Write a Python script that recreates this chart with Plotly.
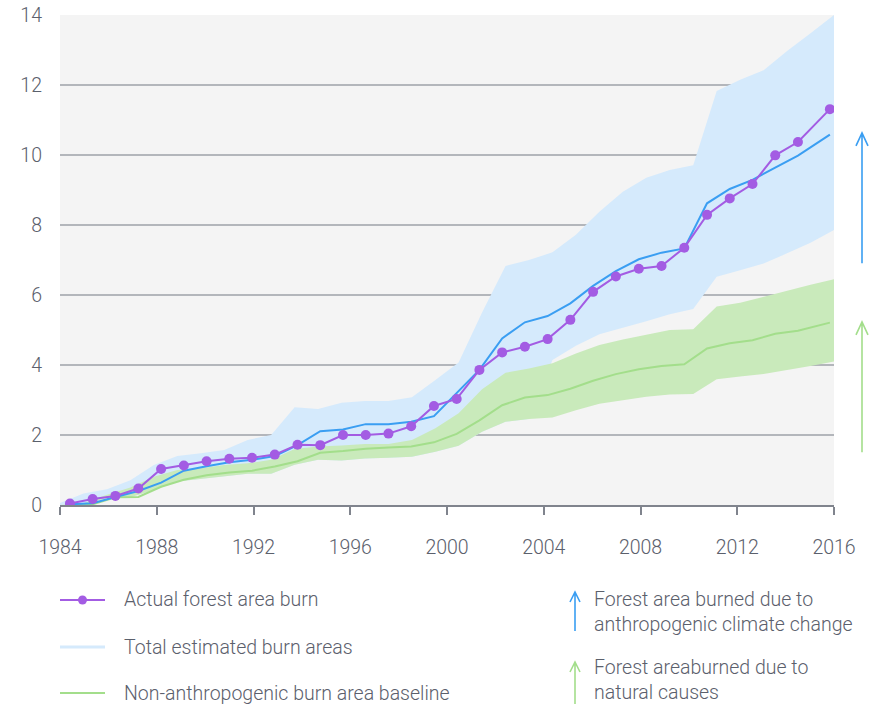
import plotly.graph_objects as go

# ---- data -------------------------------------------------------------
# positions of the observed / modelled yearly series (fractional years)
line_years = [1984.41, 1985.35, 1986.29, 1987.24, 1988.18, 1989.12, 1990.06, 1991.00,
              1991.94, 1992.88, 1993.82, 1994.76, 1995.70, 1996.64, 1997.58, 1998.52,
              1999.46, 2000.40, 2001.34, 2002.28, 2003.22, 2004.16, 2005.10, 2006.04,
              2006.98, 2007.93, 2008.87, 2009.81, 2010.75, 2011.69, 2012.63, 2013.57,
              2014.51, 2015.83]

# cumulative burned forest area (million hectares)
actual_burn = [0.04, 0.17, 0.26, 0.47, 1.03, 1.13, 1.25, 1.32, 1.35, 1.44, 1.72, 1.71,
               2.00, 2.00, 2.04, 2.25, 2.83, 3.03, 3.86, 4.36, 4.52, 4.74, 5.29, 6.09,
               6.53, 6.75, 6.83, 7.35, 8.29, 8.76, 9.17, 9.99, 10.37, 11.31]

total_estimate = [0.02, 0.05, 0.23, 0.40, 0.64, 0.98, 1.11, 1.22, 1.29, 1.40, 1.71, 2.11,
                  2.16, 2.31, 2.31, 2.38, 2.54, 3.19, 3.86, 4.76, 5.22, 5.40, 5.76, 6.26,
                  6.68, 7.02, 7.21, 7.33, 8.62, 9.03, 9.29, 9.64, 9.98, 10.58]

natural_baseline = [0.00, 0.02, 0.22, 0.23, 0.52, 0.72, 0.85, 0.93, 0.98, 1.10, 1.25, 1.49,
                    1.54, 1.61, 1.64, 1.67, 1.79, 2.03, 2.42, 2.85, 3.07, 3.14, 3.32, 3.55,
                    3.74, 3.88, 3.97, 4.02, 4.47, 4.62, 4.71, 4.89, 4.98, 5.21]

# uncertainty ranges, sampled on their own grid from 1984 to 2016
band_years = [1984.00, 1984.97, 1985.94, 1986.91, 1987.88, 1988.85, 1989.82, 1990.79,
              1991.76, 1992.73, 1993.70, 1994.67, 1995.64, 1996.61, 1997.58, 1998.55,
              1999.52, 2000.48, 2001.45, 2002.42, 2003.39, 2004.36, 2005.33, 2006.30,
              2007.27, 2008.24, 2009.21, 2010.18, 2011.15, 2012.12, 2013.09, 2014.06,
              2015.03, 2016.00]

total_high = [0.06, 0.33, 0.45, 0.71, 1.14, 1.40, 1.48, 1.57, 1.86, 2.00, 2.79, 2.74,
              2.92, 2.97, 2.97, 3.08, 3.57, 4.07, 5.50, 6.83, 7.00, 7.22, 7.72, 8.38,
              8.95, 9.35, 9.57, 9.71, 11.83, 12.15, 12.42, 12.97, 13.48, 14.00]

natural_high = [0.00, 0.05, 0.29, 0.50, 0.81, 1.00, 1.05, 1.14, 1.19, 1.29, 1.60, 1.67,
                1.70, 1.74, 1.74, 1.86, 2.19, 2.62, 3.31, 3.78, 3.90, 4.05, 4.33, 4.57,
                4.73, 4.86, 5.00, 5.02, 5.67, 5.78, 5.95, 6.14, 6.29, 6.45]

natural_low = [0.00, 0.00, 0.20, 0.22, 0.43, 0.67, 0.73, 0.81, 0.89, 0.89, 1.15, 1.29,
               1.27, 1.33, 1.35, 1.38, 1.52, 1.69, 2.09, 2.38, 2.46, 2.50, 2.71, 2.89,
               3.00, 3.09, 3.16, 3.17, 3.59, 3.67, 3.74, 3.86, 3.97, 4.10]

total_low = [0.00, 0.00, 0.20, 0.22, 0.43, 0.67, 0.73, 0.81, 0.89, 0.89, 1.15, 1.29,
             1.27, 1.33, 1.35, 1.38, 1.52, 1.69, 2.09, 2.38, 2.46, 4.14, 4.55, 4.88,
             5.06, 5.25, 5.45, 5.60, 6.52, 6.71, 6.90, 7.19, 7.49, 7.86]

year_ticks = [1984, 1988, 1992, 1996, 2000, 2004, 2008, 2012, 2016]
value_ticks = [0, 2, 4, 6, 8, 10, 12, 14]

legend_labels = ["Actual forest area burn",
                 "Total estimated burn areas",
                 "Non-anthropogenic burn area baseline"]
arrow_labels = ["Forest area burned due to<br>anthropogenic climate change",
                "Forest areaburned due to<br>natural causes"]

# ---- styling ----------------------------------------------------------
PURPLE = "#a35ce3"
BLUE = "#3a9ef2"
BLUE_FILL = "#d5eafc"
GREEN = "#a3de8b"
GREEN_FILL = "#c9eabb"
TEXT = "#5b606c"
FONT = dict(family="Roboto", size=19.5, color=TEXT, weight=300)

fig = go.Figure()


def band(xs, lo, hi, color):
    return go.Scatter(
        x=xs + xs[::-1], y=hi + lo[::-1], fill="toself", fillcolor=color,
        line=dict(width=0), mode="lines", hoverinfo="skip", showlegend=False)


fig.add_trace(band(band_years, total_low, total_high, BLUE_FILL))
fig.add_trace(band(band_years, natural_low, natural_high, GREEN_FILL))

fig.add_trace(go.Scatter(x=line_years, y=natural_baseline, mode="lines",
                         line=dict(color=GREEN, width=2), showlegend=False))
fig.add_trace(go.Scatter(x=line_years, y=total_estimate, mode="lines",
                         line=dict(color=BLUE, width=2), showlegend=False))
fig.add_trace(go.Scatter(x=line_years, y=actual_burn, mode="lines+markers",
                         line=dict(color=PURPLE, width=2),
                         marker=dict(color=PURPLE, size=10), showlegend=False))

# ---- geometry helpers (pixel -> paper) --------------------------------
W, H = 870, 704
ML, MR, MT, MB = 60, 36, 15, 199
PW, PH = W - ML - MR, H - MT - MB


def px(x):
    return (x - ML) / PW


def py(y):
    return (H - MB - y) / PH


shapes = []


def arrow(x_pix, y_tip, y_tail, color, head_w, head_h, yref):
    """Vertical arrow with an open chevron head; y in the given y reference."""
    xp = px(x_pix)
    dx = head_w / PW
    path = (f"M {xp},{y_tail} L {xp},{y_tip} "
            f"M {xp - dx},{y_tip - head_h} L {xp},{y_tip} L {xp + dx},{y_tip - head_h}")
    shapes.append(dict(type="path", path=path, xref="paper", yref=yref,
                       line=dict(color=color, width=1.6), layer="above"))


# arrows to the right of the chart, in data units on the value axis
arrow(862, 10.63, 6.91, BLUE, 6, 13 / (PH / 14), "y")
arrow(862, 5.23, 1.51, GREEN, 6, 13 / (PH / 14), "y")

# legend swatches
legend_rows = [600, 647, 693]
swatch_colors = [PURPLE, BLUE_FILL, GREEN]
swatch_widths = [2, 3, 2]
for yy, col, lw in zip(legend_rows, swatch_colors, swatch_widths):
    shapes.append(dict(type="line", xref="paper", yref="paper",
                       x0=px(60), x1=px(105), y0=py(yy), y1=py(yy),
                       line=dict(color=col, width=lw)))
r = 4.5
shapes.append(dict(type="circle", xref="paper", yref="paper",
                   x0=px(82.5 - r), x1=px(82.5 + r), y0=py(600 + r), y1=py(600 - r),
                   fillcolor=PURPLE, line=dict(width=0)))

# legend arrows
arrow(575, py(592), py(631), BLUE, 5, 10 / PH, "paper")
arrow(575, py(662), py(704), GREEN, 5, 10 / PH, "paper")

annotations = []
for yy, label in zip(legend_rows, legend_labels):
    annotations.append(dict(x=px(122), y=py(yy), xref="paper", yref="paper",
                            text=label, showarrow=False, xanchor="left",
                            yanchor="middle", font=FONT))
for yy, label in zip([612, 680], arrow_labels):
    annotations.append(dict(x=px(592), y=py(yy), xref="paper", yref="paper",
                            text=label, showarrow=False, xanchor="left",
                            yanchor="middle", align="left", font=FONT))

fig.update_layout(
    width=W, height=H,
    margin=dict(l=ML, r=MR, t=MT, b=MB, pad=0, autoexpand=False),
    paper_bgcolor="white", plot_bgcolor="#f4f4f4",
    showlegend=False,
    shapes=shapes, annotations=annotations,
    xaxis=dict(range=[1984, 2016], tickvals=year_ticks,
               ticktext=[str(t) for t in year_ticks],
               showgrid=False, zeroline=False, automargin=False,
               showline=True, linecolor="#80848d", linewidth=2,
               ticks="outside", ticklen=8, tickwidth=2, tickcolor="#80848d",
               ticklabelstandoff=16, tickfont=FONT),
    yaxis=dict(range=[0, 14], tickvals=value_ticks,
               showgrid=True, gridcolor="#b3b6bb", gridwidth=1.5,
               zeroline=False, showline=False, ticks="", automargin=False,
               ticklabelstandoff=17, tickfont=FONT),
)

fig.write_html("out.html")
